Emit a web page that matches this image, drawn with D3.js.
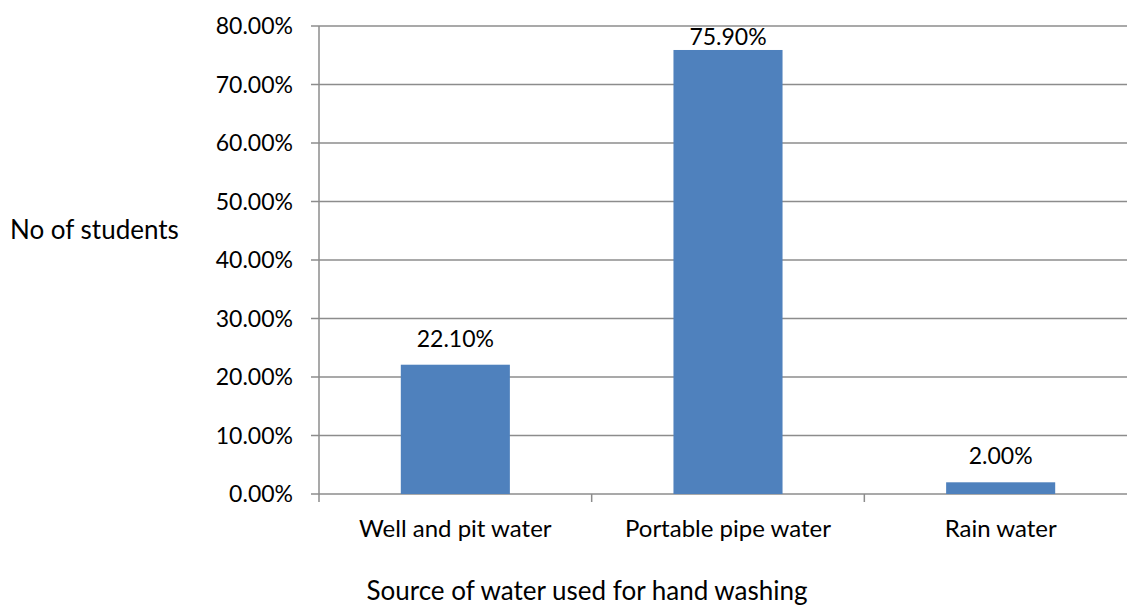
<!DOCTYPE html>
<html>
<head>
<meta charset="utf-8">
<script src="https://cdn.jsdelivr.net/npm/d3@7"></script>
<style>
  body { margin: 0; background: #fff; }
  text { font-family: Lato, "Open Sans", sans-serif; fill: #000; }
</style>
</head>
<body>
<div id="chart"></div>
<script>
// source of water for hand washing
var categories = ["Well and pit water", "Portable pipe water", "Rain water"];
var values = [22.1, 75.9, 2.0];
var yTicks = [0, 10, 20, 30, 40, 50, 60, 70, 80];

var W = 1127, H = 610;
var margin = {top: 26, right: -10, bottom: 116, left: 319};

var svg = d3.select("#chart")
    .append("svg")
    .attr("width", W)
    .attr("height", H);

var x = d3.scaleBand()
    .domain(categories)
    .range([margin.left, W - margin.right])
    .paddingInner(0.6)
    .paddingOuter(0.3);

var y = d3.scaleLinear()
    .domain([0, 80])
    .range([H - margin.bottom, margin.top]);

var gridColor = "#8c8c8c";

// gridlines
svg.append("g")
    .selectAll("line")
    .data(yTicks)
    .enter()
    .append("line")
    .attr("x1", margin.left - 8)
    .attr("x2", W - margin.right)
    .attr("y1", function (d) { return y(d); })
    .attr("y2", function (d) { return y(d); })
    .attr("stroke", gridColor)
    .attr("stroke-width", 1.5);

// y axis line
svg.append("line")
    .attr("x1", margin.left).attr("x2", margin.left)
    .attr("y1", y(80)).attr("y2", y(0) + 8)
    .attr("stroke", gridColor)
    .attr("stroke-width", 1.5);

// y tick labels
svg.append("g")
    .selectAll("text")
    .data(yTicks)
    .enter()
    .append("text")
    .attr("x", 293)
    .attr("y", function (d) { return y(d); })
    .attr("dy", "0.35em")
    .attr("text-anchor", "end")
    .style("font-size", "23px")
    .text(function (d) { return d.toFixed(2) + "%"; });

// category separators below the axis
var step = x.step();
var seps = d3.range(1, categories.length).map(function (i) {
    return margin.left + i * step;
});
svg.append("g")
    .selectAll("line")
    .data(seps)
    .enter()
    .append("line")
    .attr("x1", function (d) { return d; })
    .attr("x2", function (d) { return d; })
    .attr("y1", y(0))
    .attr("y2", y(0) + 8)
    .attr("stroke", gridColor)
    .attr("stroke-width", 1.5);

// bars
svg.append("g")
    .selectAll("rect")
    .data(values)
    .enter()
    .append("rect")
    .attr("x", function (d, i) { return x(categories[i]); })
    .attr("width", x.bandwidth())
    .attr("y", function (d) { return y(d); })
    .attr("height", function (d) { return y(0) - y(d); })
    .attr("fill", "#4f81bd");

// value labels (top one gets squeezed under the frame, like excel does)
svg.append("g")
    .selectAll("text")
    .data(values)
    .enter()
    .append("text")
    .attr("x", function (d, i) { return x(categories[i]) + x.bandwidth() / 2; })
    .attr("y", function (d) { return Math.max(y(d) - 18, margin.top + 19); })
    .attr("text-anchor", "middle")
    .style("font-size", "23px")
    .text(function (d) { return d.toFixed(2) + "%"; });

// category labels
svg.append("g")
    .selectAll("text")
    .data(categories)
    .enter()
    .append("text")
    .attr("x", function (d) { return x(d) + x.bandwidth() / 2; })
    .attr("y", 537)
    .attr("text-anchor", "middle")
    .style("font-size", "24px")
    .text(function (d) { return d; });

// axis titles
svg.append("text")
    .attr("x", 10)
    .attr("y", 239)
    .style("font-size", "26px")
    .text("No of students");

svg.append("text")
    .attr("x", 587)
    .attr("y", 600)
    .attr("text-anchor", "middle")
    .style("font-size", "26px")
    .text("Source of water used for hand washing");
</script>
</body>
</html>
